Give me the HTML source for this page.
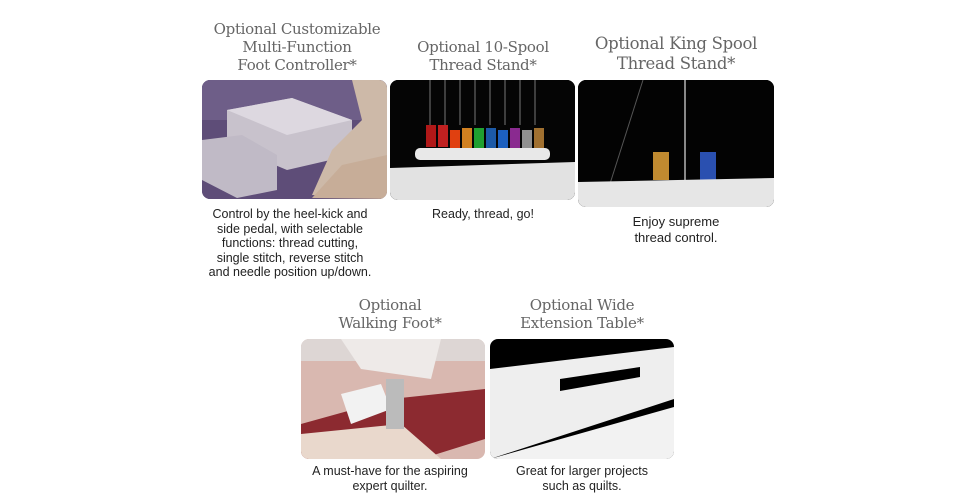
<!DOCTYPE html>
<html><head><meta charset="utf-8"><style>
body{margin:0;width:965px;height:500px;background:#fff;position:relative;overflow:hidden}
.t{position:absolute;font-family:"DejaVu Serif","Liberation Serif",serif;color:#666;text-align:center;font-size:15px;line-height:18px;letter-spacing:-0.3px}
.c{position:absolute;font-family:"Liberation Sans",sans-serif;color:#222;text-align:center;font-size:12.5px;line-height:14.6px}
.im{position:absolute;border-radius:8px;overflow:hidden}
</style></head><body>
<div class="t" style="left:187px;top:20px;width:220px">Optional Customizable<br>Multi-Function<br>Foot Controller*</div>
<div class="t" style="left:383px;top:38px;width:200px">Optional 10-Spool<br>Thread Stand*</div>
<div class="t" style="left:566px;top:34px;width:220px;font-size:16.5px;line-height:20px">Optional King Spool<br>Thread Stand*</div>

<div class="im" style="left:202px;top:80px;width:185px;height:119px;background:#5a4a72">
<svg width="185" height="119"><rect width="185" height="119" fill="#5e4d78"/><rect x="0" y="0" width="185" height="40" fill="#6e5e88"/>
<path d="M25 30 L90 18 L150 40 L150 75 L85 90 L25 65Z" fill="#c8c2cc"/><path d="M25 30 L90 18 L150 40 L85 55Z" fill="#ddd8e0"/>
<path d="M0 60 L40 55 L75 75 L75 110 L35 118 L0 100Z" fill="#c0bac6"/>
<path d="M150 0 L185 0 L185 119 L110 115 L130 70 L160 40Z" fill="#cdb9a8"/><path d="M110 118 L140 85 L185 75 L185 119Z" fill="#c7ad98"/></svg></div>

<div class="im" style="left:390px;top:80px;width:185px;height:120px;background:#000">
<svg width="185" height="120"><rect width="185" height="120" fill="#050505"/>
<g stroke="#777" stroke-width="1"><line x1="40" y1="0" x2="40" y2="45"/><line x1="55" y1="0" x2="55" y2="45"/><line x1="70" y1="0" x2="70" y2="45"/><line x1="85" y1="0" x2="85" y2="45"/><line x1="100" y1="0" x2="100" y2="45"/><line x1="115" y1="0" x2="115" y2="45"/><line x1="130" y1="0" x2="130" y2="45"/><line x1="145" y1="0" x2="145" y2="45"/></g>
<rect x="36" y="45" width="10" height="22" fill="#b01818"/><rect x="48" y="45" width="10" height="22" fill="#c02020"/><rect x="60" y="50" width="10" height="18" fill="#e04010"/><rect x="72" y="48" width="10" height="20" fill="#d08020"/><rect x="84" y="48" width="10" height="20" fill="#20a030"/><rect x="96" y="48" width="10" height="20" fill="#1c5aa8"/><rect x="108" y="50" width="10" height="18" fill="#1c60c0"/><rect x="120" y="48" width="10" height="20" fill="#8a2a90"/><rect x="132" y="50" width="10" height="18" fill="#909090"/><rect x="144" y="48" width="10" height="20" fill="#a07030"/>
<rect x="25" y="68" width="135" height="12" rx="5" fill="#e8e8e8"/>
<path d="M0 88 L185 82 L185 120 L0 120Z" fill="#e2e2e2"/></svg></div>

<div class="im" style="left:578px;top:80px;width:196px;height:127px;background:#000">
<svg width="196" height="127"><rect width="196" height="127" fill="#030303"/>
<line x1="30" y1="110" x2="65" y2="0" stroke="#555"/><line x1="107" y1="0" x2="107" y2="110" stroke="#888" stroke-width="2"/>
<rect x="75" y="72" width="16" height="28" fill="#c08a30"/><rect x="122" y="72" width="16" height="28" fill="#2a50b0"/>
<path d="M0 102 L196 98 L196 127 L0 127Z" fill="#e6e6e6"/></svg></div>

<div class="c" style="left:190px;top:207px;width:200px">Control by the heel-kick and<br>side pedal, with selectable<br>functions: thread cutting,<br>single stitch, reverse stitch<br>and needle position up/down.</div>
<div class="c" style="left:390px;top:207px;width:186px">Ready, thread, go!</div>
<div class="c" style="left:578px;top:214px;width:196px;font-size:13px;line-height:16px">Enjoy supreme<br>thread control.</div>

<div class="t" style="left:290px;top:296px;width:200px">Optional<br>Walking Foot*</div>
<div class="t" style="left:482px;top:296px;width:200px">Optional Wide<br>Extension Table*</div>

<div class="im" style="left:301px;top:339px;width:184px;height:120px">
<svg width="184" height="120"><rect width="184" height="120" fill="#d9b8b0"/><rect width="184" height="22" fill="#ddd6d4"/>
<path d="M0 85 L90 60 L184 50 L184 100 L120 120 L0 120Z" fill="#8c2a30"/><path d="M0 95 L100 85 L140 120 L0 120Z" fill="#e9d8cc"/>
<path d="M40 0 L140 0 L130 40 L60 30Z" fill="#eeeae8"/><path d="M40 55 L80 45 L90 70 L50 85Z" fill="#f2f2f2"/><rect x="85" y="40" width="18" height="50" fill="#bbb"/></svg></div>
<div class="im" style="left:490px;top:339px;width:184px;height:120px">
<svg width="184" height="120"><rect width="184" height="120" fill="#000"/><path d="M0 30 L184 8 L184 60 L0 120Z" fill="#eeeeee"/><path d="M0 120 L184 68 L184 120Z" fill="#f2f2f2"/>
<path d="M70 40 L150 28 L150 38 L70 52Z" fill="#000"/></svg></div>

<div class="c" style="left:290px;top:464px;width:200px">A must-have for the aspiring<br>expert quilter.</div>
<div class="c" style="left:482px;top:464px;width:200px">Great for larger projects<br>such as quilts.</div>
</body></html>
